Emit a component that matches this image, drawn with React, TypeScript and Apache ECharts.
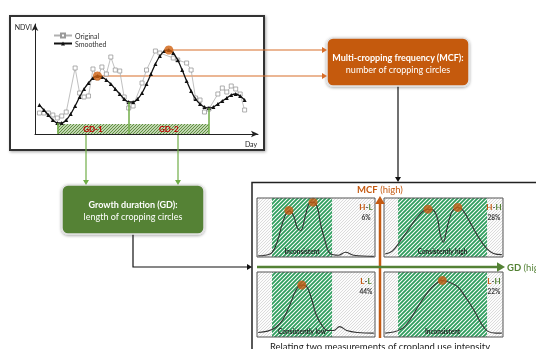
import React, { useEffect, useRef } from "react";
import * as echarts from "echarts";

// ---------- Data ----------
// Smoothed NDVI, one value per day starting at day 1
const smoothedNdvi = [0.29, 0.24, 0.19, 0.14, 0.11, 0.11, 0.14, 0.2, 0.28, 0.37, 0.45, 0.51, 0.56, 0.58, 0.57, 0.54, 0.5, 0.45, 0.4, 0.35, 0.32, 0.32, 0.35, 0.41, 0.5, 0.6, 0.7, 0.78, 0.83, 0.84, 0.81, 0.74, 0.64, 0.53, 0.43, 0.35, 0.3, 0.27, 0.26, 0.27, 0.3, 0.33, 0.36, 0.39, 0.4, 0.38, 0.34];
const originalDays = [1, 2, 3, 4, 5, 6, 7, 9, 10, 11, 12, 13, 14, 15, 16, 17, 18, 19, 20, 21, 22, 24, 25, 27, 28, 31, 32, 34, 35, 36, 37, 38, 39, 41, 42, 43, 44, 45, 46, 47];
const originalNdvi = [0.21, 0.21, 0.21, 0.19, 0.16, 0.18, 0.22, 0.66, 0.41, 0.37, 0.38, 0.65, 0.56, 0.67, 0.6, 0.77, 0.64, 0.63, 0.37, 0.26, 0.28, 0.51, 0.64, 0.83, 0.81, 0.76, 0.74, 0.71, 0.64, 0.36, 0.34, 0.22, 0.25, 0.4, 0.46, 0.42, 0.48, 0.45, 0.4, 0.24];
const peakDays = [14, 30];
const gdBoundaryDays = [5, 21, 39];
const gdLabels = ["GD-1", "GD-2"];

// Quadrant panels
const panelNames = ["H-L", "H-H", "L-L", "L-H"];
const panelShares = ["6%", "28%", "44%", "22%"];
const panelTypes = ["Inconsistent", "Consistently high", "Consistently low", "Inconsistent"];
const hlX = [1, 11, 17, 22, 27, 31, 34, 37, 41, 44, 47.5, 51, 54, 58, 62, 69, 75, 82, 99];
const hlY = [0.02, 0.05, 0.25, 0.6, 0.78, 0.7, 0.5, 0.45, 0.7, 0.9, 0.93, 0.85, 0.55, 0.25, 0.06, 0.03, 0.08, 0.03, 0.01];
const hhX = [1, 7, 13, 20, 27, 33, 37, 41, 45, 47, 50, 52, 55, 58, 62, 66, 72, 79, 86, 92, 99];
const hhY = [0.05, 0.1, 0.25, 0.45, 0.65, 0.78, 0.81, 0.8, 0.65, 0.4, 0.25, 0.4, 0.65, 0.8, 0.84, 0.8, 0.6, 0.35, 0.15, 0.06, 0.04];
const llX = [1, 9, 16, 22, 28, 33, 38, 42, 46, 50, 55, 60, 65, 70, 76, 85, 99];
const llY = [0.07, 0.09, 0.15, 0.27, 0.5, 0.72, 0.8, 0.78, 0.6, 0.35, 0.18, 0.1, 0.1, 0.16, 0.1, 0.07, 0.06];
const lhX = [1, 9, 16, 22, 28, 34, 40, 46, 49, 55, 62, 69, 76, 82, 87, 94, 99];
const lhY = [0.06, 0.08, 0.14, 0.27, 0.45, 0.62, 0.76, 0.85, 0.87, 0.84, 0.77, 0.6, 0.4, 0.2, 0.09, 0.06, 0.06];
const hlPeaks = [[27, 0.79], [47.5, 0.93]];
const hhPeaks = [[37, 0.81], [62, 0.84]];
const llPeaks = [[38, 0.8]];
const lhPeaks = [[49, 0.87]];
const greenStart = [12.7, 11.8, 12.7, 11.8];
const greenEnd = [63.6, 86.6, 63.6, 86.6];

// ---------- Layout / style ----------
const FONT = "Lato";
const ORANGE = "#c55a11";
const GREEN = "#548235";
const LGREEN = "#70ad47";
const panelRects = [
  { x: 257, y: 198, w: 118, h: 59 },
  { x: 384, y: 198, w: 119, h: 59 },
  { x: 257, y: 272, w: 118, h: 65 },
  { x: 384, y: 272, w: 119, h: 65 },
];

function hatch(fg: string, bg: string, size: number, lw: number) {
  const c = document.createElement("canvas");
  c.width = size;
  c.height = size;
  const ctx = c.getContext("2d")!;
  ctx.fillStyle = bg;
  ctx.fillRect(0, 0, size, size);
  ctx.strokeStyle = fg;
  ctx.lineWidth = lw;
  ctx.beginPath();
  ctx.moveTo(-1, size + 1);
  ctx.lineTo(size + 1, -1);
  ctx.moveTo(-size / 2 - 1, size / 2 + 1);
  ctx.lineTo(size / 2 + 1, -size / 2 - 1);
  ctx.moveTo(size / 2 - 1, size * 1.5 + 1);
  ctx.lineTo(size * 1.5 + 1, size / 2 - 1);
  ctx.stroke();
  return { image: c.toDataURL(), repeat: "repeat", imageWidth: size, imageHeight: size };
}

function arrowHead(x: number, y: number, dir: string, s: number, color: string) {
  const w = s * 0.6;
  let pts: number[][] = [];
  if (dir === "right") pts = [[x, y], [x - s, y - w], [x - s, y + w]];
  if (dir === "down") pts = [[x, y], [x - w, y - s], [x + w, y - s]];
  if (dir === "up") pts = [[x, y], [x - w, y + s], [x + w, y + s]];
  return { type: "polygon", z: 60, shape: { points: pts }, style: { fill: color } };
}

function txt(text: string, x: number, y: number, size: number, color: string, weight = "normal", align = "center", z = 60) {
  return {
    type: "text",
    z,
    style: {
      text, x, y, fill: color, fontSize: size, fontWeight: weight, fontFamily: FONT,
      align, verticalAlign: "middle", textAlign: align, textVerticalAlign: "middle",
    },
  };
}

function richPart(color: string, size: number, weight: string) {
  return { fill: color, color, fontSize: size, fontWeight: weight, fontFamily: FONT };
}

export default function App() {
  const ref = useRef<HTMLDivElement>(null);
  useEffect(() => {
    const chart = echarts.init(ref.current!, null, { renderer: "svg" });
    const grayHatch = hatch("#d2d2d2", "#fcfcfc", 3, 0.8);
    const greenHatch = hatch("#2f9e5e", "#ffffff", 4, 1.8);
    const gdHatch = hatch("#5d8f3c", "#eef5e8", 3, 1.2);

    const smoothedData = smoothedNdvi.map((v, i) => [i + 1, v]);
    const originalData = originalDays.map((d, i) => [d, originalNdvi[i]]);
    const peaks = peakDays.map((d) => [d, smoothedNdvi[d - 1]]);

    const panelCurves = [
      hlX.map((x, i) => [x, hlY[i]]),
      hhX.map((x, i) => [x, hhY[i]]),
      llX.map((x, i) => [x, llY[i]]),
      lhX.map((x, i) => [x, lhY[i]]),
    ];
    const panelPeaks = [hlPeaks, hhPeaks, llPeaks, lhPeaks];

    const grids: any[] = [{ left: 35, top: 24, width: 223, height: 110, show: false }];
    const xAxes: any[] = [
      {
        gridIndex: 0, type: "value", min: 0, max: 50,
        axisLine: { show: true, symbol: ["none", "arrow"], symbolSize: [5, 7], lineStyle: { color: "#222", width: 1 } },
        axisTick: { show: false }, axisLabel: { show: false }, splitLine: { show: false },
      },
    ];
    const yAxes: any[] = [
      {
        gridIndex: 0, type: "value", min: 0, max: 1.1,
        axisLine: { show: true, symbol: ["none", "arrow"], symbolSize: [5, 7], lineStyle: { color: "#222", width: 1 } },
        axisTick: { show: false }, axisLabel: { show: false }, splitLine: { show: false },
      },
    ];
    const series: any[] = [
      {
        name: "Original", type: "line", xAxisIndex: 0, yAxisIndex: 0, data: originalData,
        symbol: "rect", symbolSize: 4, lineStyle: { color: "#b0b0b0", width: 0.8 },
        itemStyle: { color: "#fff", borderColor: "#999", borderWidth: 0.8 }, z: 2,
      },
      {
        name: "Smoothed", type: "line", xAxisIndex: 0, yAxisIndex: 0, data: smoothedData, smooth: 0.3,
        symbol: "triangle", symbolSize: 4, lineStyle: { color: "#111", width: 1.3 }, itemStyle: { color: "#111" }, z: 3,
        markArea: {
          silent: true,
          itemStyle: { color: gdHatch },
          label: { show: true, position: "inside", color: "#c00000", fontWeight: "bold", fontSize: 8, fontFamily: FONT },
          data: gdLabels.map((n, i) => [
            { name: n, xAxis: gdBoundaryDays[i], yAxis: 0 },
            { xAxis: gdBoundaryDays[i + 1], yAxis: 0.1 },
          ]),
        },
        markLine: {
          silent: true, symbol: ["none", "none"], label: { show: false },
          lineStyle: { color: LGREEN, width: 1.5, type: "solid" },
          data: gdBoundaryDays.map((d) => [{ coord: [d, smoothedNdvi[d - 1]] }, { coord: [d, 0] }]),
        },
      },
      {
        type: "scatter", xAxisIndex: 0, yAxisIndex: 0, data: peaks, symbolSize: 9,
        itemStyle: { color: "#d0600f" }, z: 5,
      },
    ];

    panelRects.forEach((r, i) => {
      const gi = i + 1;
      grids.push({ left: r.x, top: r.y, width: r.w, height: r.h, show: false });
      xAxes.push({ gridIndex: gi, type: "value", min: 0, max: 100, show: false });
      yAxes.push({ gridIndex: gi, type: "value", min: 0, max: 1, show: false });
      series.push({
        type: "line", xAxisIndex: gi, yAxisIndex: gi, data: panelCurves[i], smooth: 0.4,
        symbol: "none", lineStyle: { color: "#333", width: 1.1 }, z: 3,
        markArea: {
          silent: true,
          label: { show: false },
          data: [
            [{ xAxis: 0, itemStyle: { color: grayHatch } }, { xAxis: 100 }],
            [
              {
                name: panelTypes[i], xAxis: greenStart[i], itemStyle: { color: greenHatch },
                label: {
                  show: true, position: "insideBottom", distance: 2, color: "#222",
                  fontSize: 6.5, fontWeight: "bold", fontFamily: FONT,
                },
              },
              { xAxis: greenEnd[i] },
            ],
          ],
        },
      });
      series.push({
        type: "scatter", xAxisIndex: gi, yAxisIndex: gi, data: panelPeaks[i], symbolSize: 9,
        itemStyle: { color: ORANGE }, z: 5,
      });
    });

    chart.setOption({
      animation: false,
      textStyle: { fontFamily: FONT },
      legend: {
        data: ["Original", "Smoothed"], orient: "vertical", left: 48, top: 27,
        itemWidth: 18, itemHeight: 5, itemGap: 1,
        textStyle: { fontSize: 7, color: "#333", fontFamily: FONT, padding: [0, 0, 0, -2] },
      },
      grid: grids, xAxis: xAxes, yAxis: yAxes, series,
    });

    const peakPx = peaks.map((p) => chart.convertToPixel({ gridIndex: 0 }, p) as number[]);

    const els: any[] = [];
    // top chart frame
    els.push({
      type: "rect", z: -10, shape: { x: 10, y: 16, width: 254, height: 134 },
      style: { fill: "#fff", stroke: "#333", lineWidth: 2, shadowBlur: 3, shadowColor: "rgba(0,0,0,0.35)", shadowOffsetX: 1, shadowOffsetY: 1 },
    });
    els.push(txt("NDVI", 32, 27, 7, "#222", "normal", "right"));
    els.push(txt("Day", 251, 144, 7, "#222"));
    // orange connectors from peaks
    peakPx.forEach((p) => {
      els.push({ type: "line", z: 1, shape: { x1: p[0] + 3, y1: p[1], x2: 323, y2: p[1] }, style: { stroke: "#d86e2a", lineWidth: 1.2 } });
      els.push(arrowHead(327, p[1], "right", 5, "#d86e2a"));
    });
    // MCF box
    els.push({
      type: "rect", z: 50, shape: { x: 327, y: 38, width: 142, height: 48, r: 6 },
      style: { fill: ORANGE, stroke: "#e2e2e2", lineWidth: 1.5, shadowBlur: 3, shadowColor: "rgba(0,0,0,0.35)", shadowOffsetY: 1 },
    });
    els.push(txt("Multi-cropping frequency (MCF):", 398, 57, 9, "#fff", "bold"));
    els.push(txt("number of cropping circles", 398, 69.5, 9, "#fff"));
    // green connectors to GD box
    [86, 178].forEach((x) => {
      els.push({ type: "line", z: 1, shape: { x1: x, y1: 135, x2: x, y2: 181 }, style: { stroke: LGREEN, lineWidth: 1.2 } });
      els.push(arrowHead(x, 185, "down", 5, LGREEN));
    });
    // GD box
    els.push({
      type: "rect", z: 50, shape: { x: 62, y: 185, width: 142, height: 49, r: 6 },
      style: { fill: GREEN, stroke: "#e2e2e2", lineWidth: 1.5, shadowBlur: 3, shadowColor: "rgba(0,0,0,0.35)", shadowOffsetY: 1 },
    });
    els.push(txt("Growth duration (GD):", 133, 204, 9, "#fff", "bold"));
    els.push(txt("length of cropping circles", 133, 216.5, 9, "#fff"));
    // black connectors
    els.push({ type: "line", z: 1, shape: { x1: 398, y1: 86, x2: 398, y2: 178 }, style: { stroke: "#111", lineWidth: 1.2 } });
    els.push(arrowHead(398, 182, "down", 5, "#111"));
    els.push({ type: "polyline", z: 1, shape: { points: [[133, 234], [133, 267], [248, 267]] }, style: { stroke: "#111", lineWidth: 1.2, fill: "none" } });
    els.push(arrowHead(252, 267, "right", 5, "#111"));
    // bottom frame
    els.push({ type: "polyline", z: 1, shape: { points: [[252, 352], [252, 182.5], [540, 182.5]] }, style: { stroke: "#222", lineWidth: 1.5, fill: "none" } });
    // panel borders and labels
    panelRects.forEach((r, i) => {
      els.push({ type: "rect", z: 40, shape: { x: r.x, y: r.y, width: r.w, height: r.h }, style: { fill: "none", stroke: "#555", lineWidth: 1 } });
      const [a, b] = panelNames[i].split("-");
      els.push({
        type: "text", z: 60,
        style: {
          text: `{o|${a}}{d|-}{g|${b}}`, x: r.x + r.w - 9, y: r.y + 9,
          align: "center", verticalAlign: "middle", textAlign: "center", textVerticalAlign: "middle",
          fontFamily: FONT, fontSize: 8, fontWeight: "bold",
          rich: {
            o: richPart(ORANGE, 8, "bold"),
            d: richPart("#444", 8, "bold"),
            g: richPart(GREEN, 8, "bold"),
          },
        },
      });
      els.push(txt(panelShares[i], r.x + r.w - 9, r.y + 19, 6.5, "#333", "bold"));
    });
    // axes of the quadrant diagram
    els.push({ type: "line", z: 45, shape: { x1: 380, y1: 338, x2: 380, y2: 203 }, style: { stroke: ORANGE, lineWidth: 2.5 } });
    els.push(arrowHead(380, 196, "up", 8, ORANGE));
    els.push({ type: "line", z: 45, shape: { x1: 257, y1: 267, x2: 498, y2: 267 }, style: { stroke: GREEN, lineWidth: 2.5 } });
    els.push(arrowHead(505, 267, "right", 8, GREEN));
    els.push({
      type: "text", z: 60,
      style: {
        text: "{b|MCF} {n|(high)}", x: 380, y: 189.5, align: "center", verticalAlign: "middle", textAlign: "center", textVerticalAlign: "middle",
        fontFamily: FONT, fontSize: 9.5,
        rich: { b: richPart(ORANGE, 9.5, "bold"), n: richPart(ORANGE, 9.5, "normal") },
      },
    });
    els.push({
      type: "text", z: 60,
      style: {
        text: "{b|GD} {n|(high)}", x: 507, y: 267.5, align: "left", verticalAlign: "middle", textAlign: "left", textVerticalAlign: "middle",
        fontFamily: FONT, fontSize: 9.5,
        rich: { b: richPart(GREEN, 9.5, "bold"), n: richPart(GREEN, 9.5, "normal") },
      },
    });
    els.push(txt("Relating two measurements of cropland use intensity", 380, 346, 9.5, "#222"));

    chart.setOption({ graphic: { elements: els } });
    return () => chart.dispose();
  }, []);
  return <div ref={ref} style={{ position: "fixed", left: 0, top: 0, width: 536, height: 349 }} />;
}
